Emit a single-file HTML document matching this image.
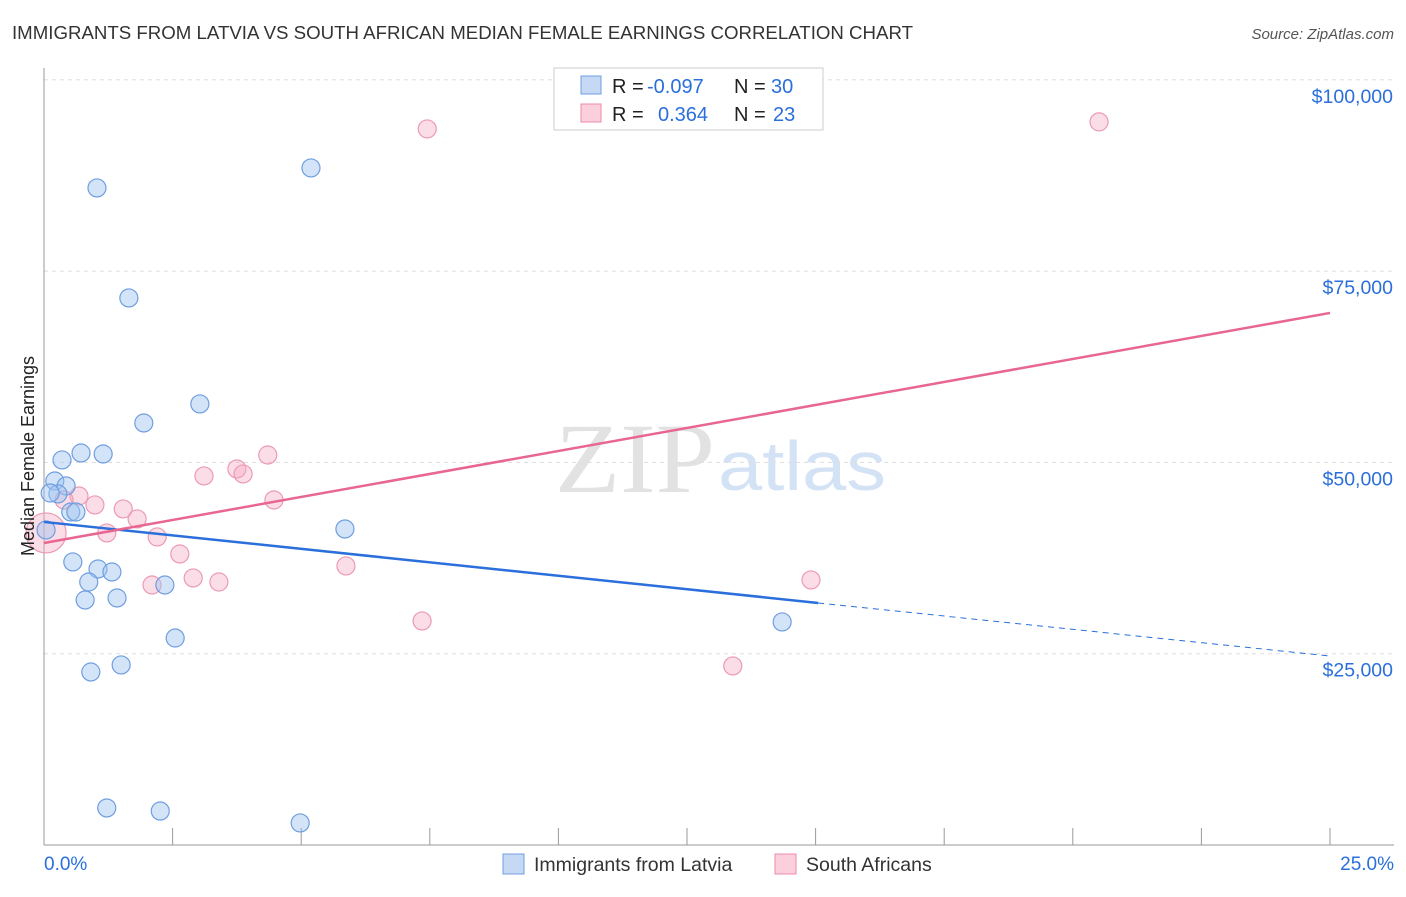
<!DOCTYPE html>
<html><head><meta charset="utf-8"><style>
body{margin:0;background:#fff;font-family:"Liberation Sans",sans-serif;}
svg text{font-family:"Liberation Sans",sans-serif;}
</style></head><body>
<svg width="1406" height="892" id="chart">
<text x="12" y="39" font-size="18" fill="#333" textLength="901" lengthAdjust="spacingAndGlyphs">IMMIGRANTS FROM LATVIA VS SOUTH AFRICAN MEDIAN FEMALE EARNINGS CORRELATION CHART</text>
<text x="1394" y="39" font-size="15" fill="#555" font-style="italic" text-anchor="end">Source: ZipAtlas.com</text>
<text x="555" y="492" font-size="100" fill="#e2e2e2" textLength="160" lengthAdjust="spacingAndGlyphs" style="font-family:'Liberation Serif',serif">ZIP</text>
<text x="718" y="490" font-size="70" fill="#d3e2f5" textLength="168" lengthAdjust="spacingAndGlyphs">atlas</text>
<g id="grid"></g>
<g id="marks"></g>
<text transform="translate(34,456) rotate(-90)" font-size="18" fill="#222" text-anchor="middle">Median Female Earnings</text>
<g>
<rect x="554" y="68" width="269" height="62" fill="#fff" stroke="#ccc"/>
<rect x="581" y="76" width="20" height="18" fill="#c5d9f5" stroke="#6f9ee0"/>
<rect x="581" y="104" width="20" height="18" fill="#fbd0dc" stroke="#ec8aa8"/>
<text y="93" font-size="20" fill="#222"><tspan x="612">R =</tspan><tspan x="647" fill="#2a6fdb">-0.097</tspan><tspan x="734">N =</tspan><tspan x="771" fill="#2a6fdb">30</tspan></text>
<text y="121" font-size="20" fill="#222"><tspan x="612">R =</tspan><tspan x="658" fill="#2a6fdb">0.364</tspan><tspan x="734">N =</tspan><tspan x="773" fill="#2a6fdb">23</tspan></text>
</g>
<g>
<rect x="503" y="854" width="21" height="20" fill="#c5d9f5" stroke="#6f9ee0"/>
<text x="534" y="871" font-size="19.5" fill="#333">Immigrants from Latvia</text>
<rect x="775" y="854" width="21" height="20" fill="#fbd0dc" stroke="#ec8aa8"/>
<text x="806" y="871" font-size="19.5" fill="#333">South Africans</text>
</g>
</svg>
<script>
const blueX=[1.03,5.19,1.65,3.03,1.94,0.35,0.72,1.15,0.21,0.43,0.27,0.52,0.62,5.85,0.56,1.05,1.32,0.87,0.80,1.42,2.35,2.55,0.91,1.50,14.35,1.22,2.26,4.98,0.04,0.12];
const blueY=[85870,88480,71490,57640,55150,50320,51230,51100,47570,46920,45880,43520,43520,41300,36990,36070,35680,34370,32020,32280,33980,27050,22610,23530,29150,4840,4440,2880,41170,46000];
const pinkX=[7.45,20.51,4.35,3.75,3.87,3.11,4.47,0.68,0.39,0.99,1.54,1.81,1.22,2.20,2.64,2.90,3.40,2.10,5.87,7.35,14.91,13.39,0.04];
const pinkY=[93580,94500,50970,49140,48490,48230,45090,45610,45090,44440,43920,42610,40780,40260,38030,34900,34370,33980,36470,29280,34640,23400,40780];
const yTicks=[25000,50000,75000,100000];
const yTickLabels=["$25,000","$50,000","$75,000","$100,000"];
const blueTrend=[42220,31630,24700];
const pinkTrend=[39470,69530];
const NS='http://www.w3.org/2000/svg';
const sx=v=>44+v/25*1286;
const sy=v=>845-v/25000*191.3;
function mk(tag,attrs,parent){const e=document.createElementNS(NS,tag);for(const k in attrs)e.setAttribute(k,attrs[k]);parent.appendChild(e);return e;}
const grid=document.getElementById('grid'),marks=document.getElementById('marks');
yTicks.forEach((t,i)=>{
 const l=mk('line',{x1:44,x2:1394,y1:sy(t),y2:sy(t),stroke:'#ddd','stroke-dasharray':'4,4'},grid);
 
 
 const tx=mk('text',{x:1393,y:sy(t)+23,'font-size':19.5,fill:'#2a6fdb','text-anchor':'end'},grid);
 tx.textContent=yTickLabels[i];
 
 
});
mk('line',{x1:44,x2:44,y1:68,y2:845,stroke:'#999'},grid);
mk('line',{x1:44,x2:1394,y1:845,y2:845,stroke:'#999'},grid);
for(let i=1;i<=10;i++){const t=mk('line',{x1:sx(i*2.5),x2:sx(i*2.5),y1:828,y2:845,stroke:'#999'},grid);
 
 }
const x0=mk('text',{x:44,y:870,'font-size':19,fill:'#2a6fdb'},grid);x0.textContent='0.0%';


const x1=mk('text',{x:1394,y:870,'font-size':19,fill:'#2a6fdb','text-anchor':'end'},grid);x1.textContent='25.0%';


pinkX.forEach((x,i)=>{const c=mk('circle',{cx:sx(x),cy:sy(pinkY[i]),r:i==pinkX.length-1?20:9,fill:'rgba(246,170,195,0.4)',stroke:'#ec9ab4','stroke-width':1.2},marks);
 
 });
blueX.forEach((x,i)=>{const c=mk('circle',{cx:sx(x),cy:sy(blueY[i]),r:9,fill:'rgba(160,195,240,0.45)',stroke:'#6f9ee0','stroke-width':1.2},marks);
 
 });
const bl=mk('line',{x1:sx(0),y1:sy(blueTrend[0]),x2:sx(15.05),y2:sy(blueTrend[1]),stroke:'#2a6fdb','stroke-width':2.5},marks);


const bd=mk('line',{x1:sx(15.05),y1:sy(blueTrend[1]),x2:sx(25),y2:sy(blueTrend[2]),stroke:'#2a6fdb','stroke-width':1,'stroke-dasharray':'6,5'},marks);


const pl=mk('line',{x1:sx(0),y1:sy(pinkTrend[0]),x2:sx(25),y2:sy(pinkTrend[1]),stroke:'#e8668f','stroke-width':2.5},marks);


</script>
</body></html>
